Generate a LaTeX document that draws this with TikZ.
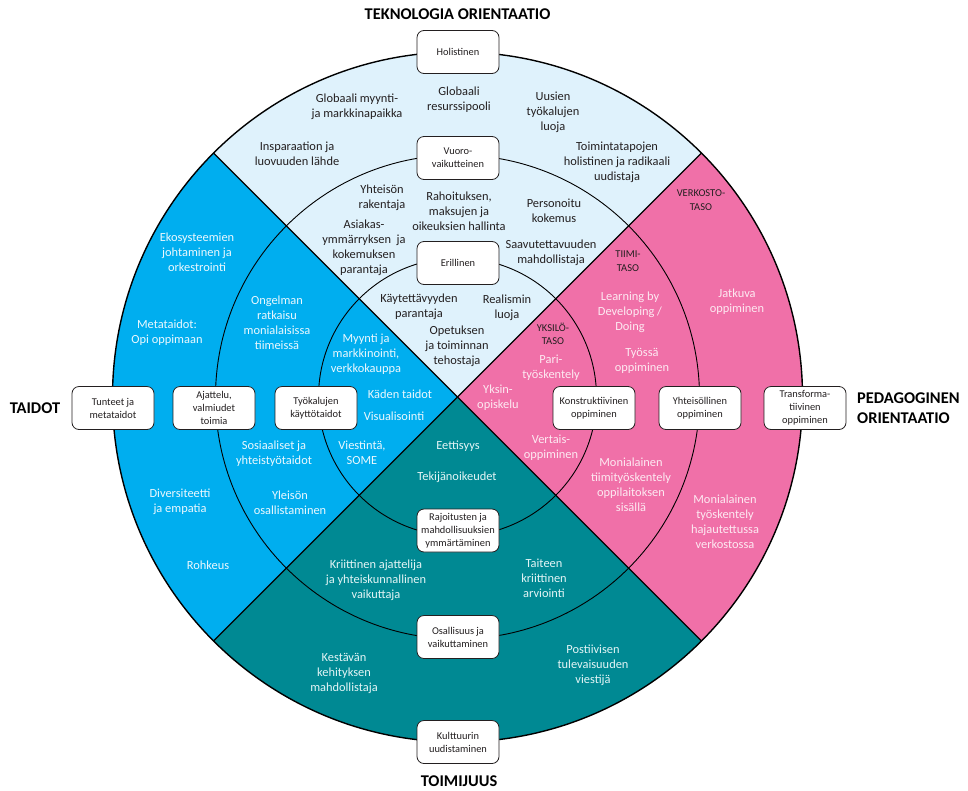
\documentclass[tikz,border=0pt]{standalone}
\usepackage{fontspec}
\setmainfont{Carlito}
\usetikzlibrary{calc}
\definecolor{ctop}{RGB}{223,242,252}
\definecolor{cleft}{RGB}{0,174,239}
\definecolor{cbot}{RGB}{0,137,147}
\definecolor{cright}{RGB}{240,112,168}
\definecolor{ink}{RGB}{35,31,32}
\definecolor{tblue}{RGB}{236,248,254}
\definecolor{tteal}{RGB}{228,245,246}
\definecolor{tpink}{RGB}{253,234,242}
\begin{document}
\begin{tikzpicture}[x=1pt,y=-1pt,
  lbl/.style={align=center,font=\fontsize{12.4}{15}\selectfont,inner sep=0pt},
  dk/.style={lbl,text=ink},
  wb/.style={lbl,text=tblue},
  wt/.style={lbl,text=tteal},
  wp/.style={lbl,text=tpink},
  tier/.style={align=center,font=\fontsize{10.5}{13.4}\selectfont,text=ink,inner sep=0pt},
  bx/.style={draw=ink,line width=0.8pt,fill=white,rounded corners=7pt,minimum width=82pt,minimum height=43pt,inner sep=1pt,align=center,font=\fontsize{10.4}{13}\selectfont,text=ink},
  ttl/.style={font=\bfseries\fontsize{16.4}{20}\selectfont,text=black,inner sep=0pt}
]
\useasboundingbox (0,0) rectangle (968,790);
\coordinate (C) at (457.5,397);
% sectors
\fill[ctop]   (C) -- ++(225:345) arc[start angle=225,end angle=315,radius=345] -- cycle;
\fill[cleft]  (C) -- ++(135:345) arc[start angle=135,end angle=225,radius=345] -- cycle;
\fill[cbot]   (C) -- ++(45:345)  arc[start angle=45,end angle=135,radius=345] -- cycle;
\fill[cright] (C) -- ++(-45:345) arc[start angle=-45,end angle=45,radius=345] -- cycle;
% rings
\draw[line width=0.9pt] (C) circle[radius=139];
\draw[line width=0.9pt] (C) circle[radius=242];
\draw[line width=1.4pt] (C) circle[radius=345];
% diagonals
\coordinate (d1) at ($(C)+(45:345)$);
\coordinate (d2) at ($(C)+(225:345)$);
\coordinate (d3) at ($(C)+(135:345)$);
\coordinate (d4) at ($(C)+(-45:345)$);
\draw[line width=1.3pt] (d1) -- (d2);
\draw[line width=1.3pt] (d3) -- (d4);
% boxes
\node[bx] (b1) at (458,52) {Holistinen};
\node[bx] (b2) at (458,158) {Vuoro-\\vaikutteinen};
\node[bx] (b3) at (458,263) {Erillinen};
\node[bx] (b4) at (458,530.5) {Rajoitusten ja\\mahdollisuuksien\\ymmärtäminen};
\node[bx] (b5) at (458,637) {Osallisuus ja\\vaikuttaminen};
\node[bx] (b6) at (458,742) {Kulttuurin\\uudistaminen};
\node[bx] (b7) at (113,408) {Tunteet ja\\metataidot};
\node[bx] (b8) at (214,408) {Ajattelu,\\valmiudet\\toimia};
\node[bx] (b9) at (316,408) {Työkalujen\\käyttötaidot};
\node[bx] (b10) at (594,408) {Konstruktiivinen\\oppiminen};
\node[bx] (b11) at (700,408) {Yhteisöllinen\\oppiminen};
\node[bx] (b12) at (805,408) {Transforma-\\tiivinen\\oppiminen};
% titles
\node[ttl] (t1) at (457.5,14) {TEKNOLOGIA ORIENTAATIO};
\node[ttl] (t2) at (35,408) {TAIDOT};
\node[ttl,align=left,anchor=west] (t3) at (857,408) {PEDAGOGINEN\\ORIENTAATIO};
\node[ttl] (t4) at (459,781) {TOIMIJUUS};
% top sector
\node[dk] (a1) at (357,107) {Globaali myynti-\\ja markkinapaikka};
\node[dk] (a2) at (459,99.5) {Globaali\\resurssipooli};
\node[dk] (a3) at (553,112) {Uusien\\työkalujen\\luoja};
\node[dk] (a4) at (297,154) {Insparaation ja\\luovuuden lähde};
\node[dk] (a5) at (617,162) {Toimintatapojen\\holistinen ja radikaali\\uudistaja};
\node[dk] (a6) at (382,197.5) {Yhteisön\\rakentaja};
\node[dk] (a7) at (459,211) {Rahoituksen,\\maksujen ja\\oikeuksien hallinta};
\node[dk] (a8) at (554,211) {Personoitu\\kokemus};
\node[dk] (a9) at (364,248) {Asiakas-\\ymmärryksen~ ja\\kokemuksen\\parantaja};
\node[dk] (a10) at (551,252.5) {Saavutettavuuden\\mahdollistaja};
\node[dk] (a11) at (419,307) {Käytettävyyden\\parantaja};
\node[dk] (a12) at (507,308) {Realismin\\luoja};
\node[dk] (a13) at (457,346) {Opetuksen\\ja toiminnan\\tehostaja};
% left sector
\node[wb] (l1) at (197,252) {Ekosysteemien\\johtaminen ja\\orkestrointi};
\node[wb] (l2) at (167,333) {Metataidot:\\Opi oppimaan};
\node[wb] (l3) at (277,323) {Ongelman\\ratkaisu\\monialaisissa\\tiimeissä};
\node[wb] (l4) at (366,354) {Myynti ja\\markkinointi,\\verkkokauppa};
\node[wb] (l5) at (400,394) {Käden taidot};
\node[wb] (l6) at (394,416) {Visualisointi};
\node[wb] (l7) at (274,454) {Sosiaaliset ja\\yhteistyötaidot};
\node[wb] (l8) at (362,453) {Viestintä,\\SOME};
\node[wb] (l9) at (180,502) {Diversiteetti\\ja empatia};
\node[wb] (l10) at (290,502.5) {Yleisön\\osallistaminen};
\node[wb] (l11) at (208,565) {Rohkeus};
% bottom sector
\node[wt] (u1) at (458,446) {Eettisyys};
\node[wt] (u2) at (457,477) {Tekijänoikeudet};
\node[wt] (u3) at (376,580) {Kriittinen ajattelija\\ja yhteiskunnallinen\\vaikuttaja};
\node[wt] (u4) at (544,578) {Taiteen\\kriittinen\\arviointi};
\node[wt] (u5) at (344,673) {Kestävän\\kehityksen\\mahdollistaja};
\node[wt] (u6) at (593,665) {Postiivisen\\tulevaisuuden\\viestijä};
% right sector
\node[wp] (r1) at (551,368) {Pari-\\työskentely};
\node[wp] (r2) at (498,398) {Yksin-\\opiskelu};
\node[wp] (r3) at (551,448) {Vertais-\\oppiminen};
\node[wp] (r4) at (630,312) {Learning by\\Developing /\\Doing};
\node[wp] (r5) at (642,360.5) {Työssä\\oppiminen};
\node[wp] (r6) at (631,485) {Monialainen\\tiimityöskentely\\oppilaitoksen\\sisällä};
\node[wp] (r7) at (737,302) {Jatkuva\\oppiminen};
\node[wp] (r8) at (725,522) {Monialainen\\työskentely\\hajautettussa\\verkostossa};
% tier labels
\node[tier] (s1) at (553,334) {YKSILÖ-\\TASO};
\node[tier] (s2) at (628,261) {TIIMI-\\TASO};
\node[tier] (s3) at (701,200) {VERKOSTO-\\TASO};
\end{tikzpicture}
\end{document}
